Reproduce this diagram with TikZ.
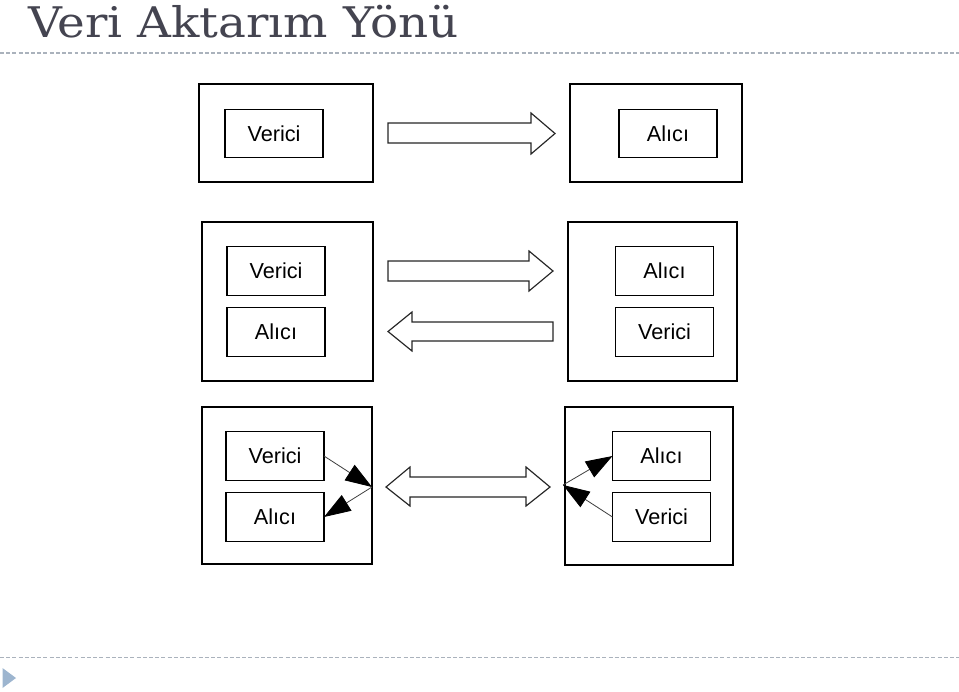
\documentclass[tikz,border=0pt]{standalone}
\usepackage{fontspec}
\setmainfont{Liberation Sans}
\newfontfamily\baslikfont{DejaVu Serif}
\usetikzlibrary{arrows.meta}
\definecolor{baslikrenk}{RGB}{68,68,80}
\definecolor{cizgirenk}{RGB}{170,178,188}
\definecolor{ucgenrenk}{RGB}{157,181,207}
\tikzset{
  dis/.style={draw, line width=1pt, inner sep=0pt, outer sep=0pt},
  ic/.style={draw, line width=1pt, inner sep=0pt, outer sep=0pt,
    minimum width=2.94cm, minimum height=1.46cm,
    font=\fontsize{18.5}{18.5}\selectfont, text=black},
  blok/.style={draw=black!85, line width=1pt, fill=white},
  oklu/.style={draw=black!75, line width=0.7pt,
    -{Triangle[length=0.8cm,width=0.55cm,fill=black,color=black]}},
  kesik/.style={cizgirenk, line width=0.9pt, dash pattern=on 3.4pt off 1.9pt}
}
\begin{document}
\begin{tikzpicture}[x=0.03cm, y=-0.03cm]
    \useasboundingbox (0,0) rectangle (959,691);

    % baslik ve ayirici cizgiler
    \node[anchor=base west, inner sep=0pt, text=baslikrenk,
          font=\baslikfont\fontsize{36}{36}\selectfont] (baslik) at (28,37)
          {\scalebox{1.11}[1]{Veri Aktarım Yönü}};
    \draw[kesik] (0,53) -- (959,53);
    \draw[kesik] (0,657.5) -- (959,657.5);
    \fill[ucgenrenk] (2.5,668) -- (16,678) -- (2.5,688) -- cycle;

    % 1. satir: tek yonlu
    \node[dis, minimum width=5.22cm, minimum height=2.94cm] (s1) at (286,133) {};
    \node[ic] (v1) at (274,133.5) {Verici};
    \node[dis, minimum width=5.16cm, minimum height=2.94cm] (r1) at (656,133) {};
    \node[ic] (a1) at (668,133.5) {Alıcı};
    \draw[blok] (388,123) -- (531,123) -- (531,113) -- (555,133.5)
        -- (531,154) -- (531,143) -- (388,143) -- cycle;

    % 2. satir: iki yonlu, sirayla
    \node[dis, minimum width=5.13cm, minimum height=4.77cm] (s2) at (287.5,301.5) {};
    \node[ic] (v2) at (276,271) {Verici};
    \node[ic] (a2) at (276,332) {Alıcı};
    \node[dis, minimum width=5.07cm, minimum height=4.77cm] (r2) at (652.5,301.5) {};
    \node[ic] (a2r) at (664.5,271) {Alıcı};
    \node[ic] (v2r) at (664.5,332) {Verici};
    \draw[blok] (388,261) -- (529,261) -- (529,251) -- (553,271)
        -- (529,291) -- (529,281) -- (388,281) -- cycle;
    \draw[blok] (553,322) -- (412,322) -- (412,312) -- (388,331.5)
        -- (412,351) -- (412,341) -- (553,341) -- cycle;

    % 3. satir: iki yonlu, ayni anda
    \node[dis, minimum width=5.1cm, minimum height=4.71cm] (s3) at (287,485.5) {};
    \node[ic] (v3) at (275,456) {Verici};
    \node[ic] (a3) at (275,517) {Alıcı};
    \node[dis, minimum width=5.04cm, minimum height=4.74cm] (r3) at (649,486) {};
    \node[ic] (a3r) at (661.5,456) {Alıcı};
    \node[ic] (v3r) at (661.5,517) {Verici};
    \draw[blok] (386,487) -- (410,467) -- (410,477) -- (526,477) -- (526,467)
        -- (550,487) -- (526,506) -- (526,497) -- (410,497) -- (410,506) -- cycle;

    % ic oklar
    \coordinate (kL) at (372,487);
    \coordinate (kR) at (563,485);
    \draw[oklu] (v3.east) -- (kL);
    \draw[oklu] (kL) -- (a3.east);
    \draw[oklu] (kR) -- (a3r.west);
    \draw[oklu] (v3r.west) -- (kR);
\end{tikzpicture}
\end{document}
